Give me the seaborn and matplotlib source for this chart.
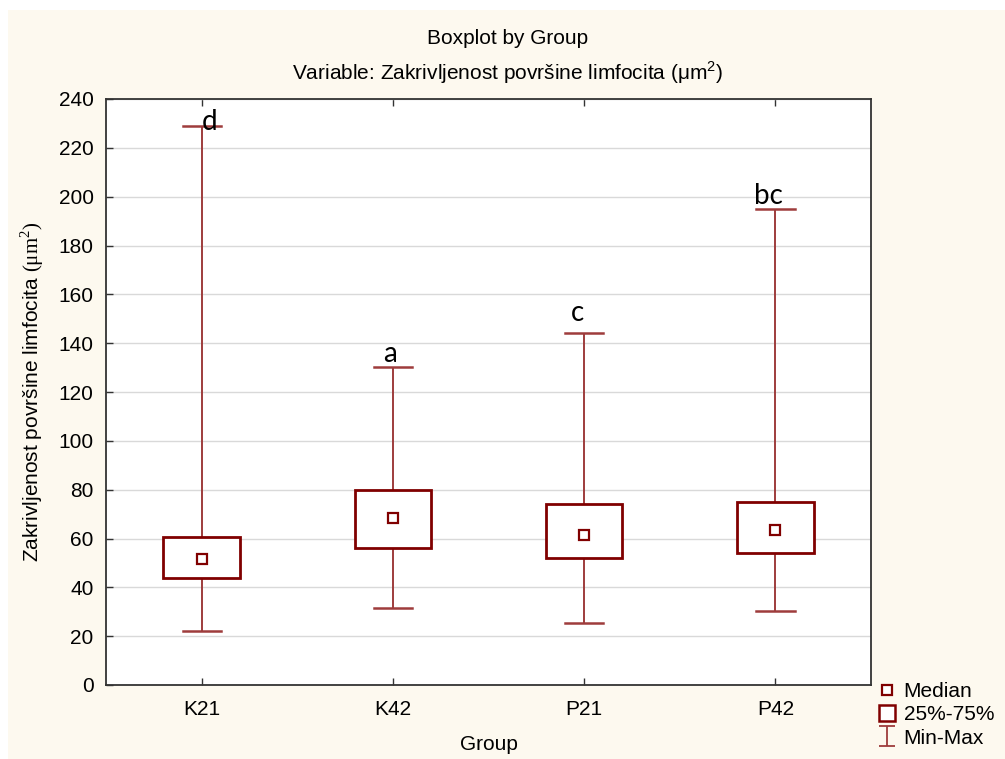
import matplotlib
matplotlib.use("Agg")
import matplotlib.pyplot as plt
from matplotlib.lines import Line2D
from matplotlib.path import Path
from matplotlib.patches import Rectangle
import numpy as np
import pandas as pd
import seaborn as sns

# summary values
groups = ["K21", "K42", "P21", "P42"]
mins = [22.1, 31.6, 25.4, 30.5]
q1s = [44.0, 56.0, 51.9, 54.0]
medians = [51.4, 68.4, 61.6, 63.5]
q3s = [60.6, 79.9, 74.3, 75.0]
maxs = [228.9, 130.2, 144.0, 195.1]
letters = ["d", "a", "c", "bc"]


def main():
    plt.rcParams["font.family"] = ["Liberation Sans", "DejaVu Sans"]
    plt.rcParams["mathtext.fontset"] = "custom"
    plt.rcParams["mathtext.rm"] = "Liberation Serif"
    plt.rcParams["mathtext.sf"] = "Liberation Sans"

    # five values per group -> quartiles land exactly on q1/median/q3
    rows = []
    for g, a, b, c, d, e in zip(groups, mins, q1s, medians, q3s, maxs):
        for v in (a, b, c, d, e):
            rows.append({"Group": g, "value": v})
    df = pd.DataFrame(rows)

    maroon = "#800000"
    light = "#9e3c3c"
    fs = 15

    fig = plt.figure(figsize=(10.05, 7.59), dpi=100)
    fig.patch.set_facecolor("white")
    fig.patches.append(
        Rectangle((8 / 1005, 0), 1, 1 - 10 / 759, transform=fig.transFigure,
                  facecolor="#fdf9ef", edgecolor="none", zorder=-10)
    )
    ax = fig.add_axes([106 / 1005, 74 / 759, 765 / 1005, 586 / 759])
    ax.set_facecolor("white")

    sns.boxplot(
        data=df, x="Group", y="value", order=groups, ax=ax,
        whis=(0, 100), width=0.4, color="white", linecolor=maroon,
        linewidth=2,
        boxprops=dict(zorder=3),
        whiskerprops=dict(color=light, linewidth=1.4, zorder=2.5),
        capprops=dict(color=light, linewidth=1.8, zorder=2.5),
        medianprops=dict(visible=False),
        showfliers=False,
    )
    sns.pointplot(
        data=df, x="Group", y="value", order=groups, ax=ax,
        estimator="median", errorbar=None, marker="s", linestyle="none",
        color=maroon, markerfacecolor="white", markeredgecolor=maroon,
        markersize=7, markeredgewidth=1.6, zorder=5,
    )

    for i, (txt, top) in enumerate(zip(letters, maxs)):
        off = [(8, -4), (-3, 5), (-7, 12), (-7, 5)][i]
        ax.annotate(txt, xy=(i, top), xytext=off, textcoords="offset pixels",
                    ha="center", va="baseline", fontsize=20,
                    family=["Lato", "DejaVu Sans"], zorder=6)

    ax.set_xlim(-0.5, 3.5)
    ax.set_ylim(0, 240)
    ax.set_yticks(np.arange(0, 241, 20))
    ax.yaxis.grid(True, color="#d9d9d9", linewidth=1)
    ax.xaxis.grid(False)
    ax.set_axisbelow(True)
    for s in ax.spines.values():
        s.set_color("#333333")
        s.set_linewidth(1.3)
    ax.tick_params(axis="both", direction="in", length=5, width=1,
                   color="#333333", labelsize=fs, top=True, right=False)
    ax.tick_params(axis="y", pad=9)
    ax.tick_params(axis="x", pad=11)

    ax.set_xlabel("Group", fontsize=fs, va="top")
    ax.xaxis.set_label_coords(0.5, -0.085)
    ax.set_ylabel(r"Zakrivljenost površine limfocita $(\mathrm{μm}^2)$",
                  fontsize=fs)
    ax.yaxis.set_label_coords(-0.079, 0.5)

    fig.text(508 / 1005, 1 - 38 / 759, "Boxplot by Group", ha="center",
             va="center", fontsize=fs)
    fig.text(508 / 1005, 1 - 73 / 759,
             r"Variable: Zakrivljenost površine limfocita (μm$^\mathsf{2}$)",
             ha="center", va="center", fontsize=fs)

    ibeam = Path([(-0.85, 1), (0.85, 1), (0, 1), (0, -1), (-0.85, -1), (0.85, -1)],
                 [Path.MOVETO, Path.LINETO, Path.MOVETO, Path.LINETO,
                  Path.MOVETO, Path.LINETO])
    handles = [
        Line2D([], [], marker="s", linestyle="none", markerfacecolor="white",
               markeredgecolor=maroon, markersize=7, markeredgewidth=1.6),
        Line2D([], [], marker="s", linestyle="none", markerfacecolor="white",
               markeredgecolor=maroon, markersize=11, markeredgewidth=1.8),
        Line2D([], [], marker=ibeam, linestyle="none", color=light,
               markersize=14, markeredgewidth=1.3),
    ]
    fig.legend(handles, ["Median", "25%-75%", "Min-Max"], loc="center left",
               bbox_to_anchor=(866 / 1005, 1 - 715 / 759), frameon=False,
               fontsize=fs, handlelength=1.0, handletextpad=0.3,
               labelspacing=0.2, borderpad=0)

    plt.savefig("out.png", dpi=100)


if __name__ == "__main__":
    main()
